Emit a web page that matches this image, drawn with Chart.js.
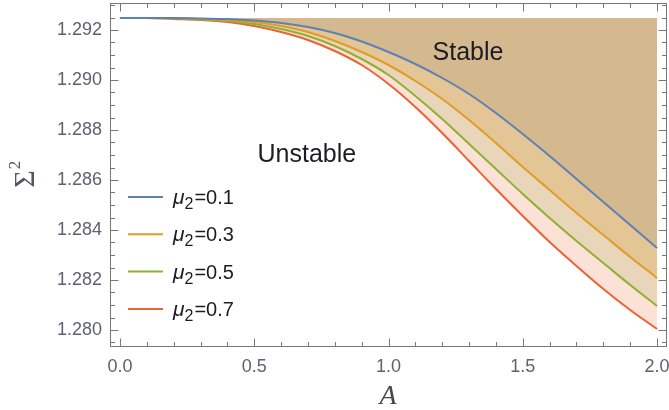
<!DOCTYPE html>
<html><head><meta charset="utf-8">
<script src="https://cdn.jsdelivr.net/npm/chart.js@4.4.1/dist/chart.umd.min.js"></script>
<style>html,body{margin:0;padding:0;background:#fff;}canvas{display:block;}</style>
</head><body>
<canvas id="c" width="669" height="410"></canvas>
<script>
// ---- data ----
const amplitudes = [0.0,0.1,0.2,0.3,0.4,0.5,0.6,0.7,0.8,0.9,1.0,1.1,1.2,1.3,1.4,1.5,1.6,1.7,1.8,1.9,2.0];
const sigmaMu01 = [1.29248,1.29248,1.29248,1.29246,1.29244,1.29238,1.29228,1.29212,1.29188,1.29154,1.29112,1.29064,1.29008,1.28944,1.28868,1.28784,1.28696,1.28604,1.28512,1.28420,1.28328];
const sigmaMu03 = [1.29248,1.29248,1.29248,1.29244,1.29240,1.29232,1.29216,1.29192,1.29156,1.29112,1.29060,1.28996,1.28924,1.28840,1.28748,1.28652,1.28560,1.28468,1.28380,1.28292,1.28208];
const sigmaMu05 = [1.29248,1.29248,1.29246,1.29242,1.29236,1.29224,1.29204,1.29176,1.29136,1.29084,1.29020,1.28936,1.28844,1.28744,1.28644,1.28544,1.28448,1.28356,1.28268,1.28180,1.28096];
const sigmaMu07 = [1.29248,1.29248,1.29244,1.29240,1.29232,1.29216,1.29192,1.29160,1.29116,1.29060,1.28984,1.28892,1.28788,1.28676,1.28564,1.28456,1.28352,1.28256,1.28164,1.28080,1.28004];
const muValues = ['0.1','0.3','0.5','0.7'];
const stableTop = 1.29248;
const xTickValues = [0.0,0.5,1.0,1.5,2.0];
const yTickValues = [1.280,1.282,1.284,1.286,1.288,1.290,1.292];
const regionLabels = ['Stable','Unstable'];

// ---- styles ----
const lineColors = ['#5E81B5','#E19C24','#8FB032','#EB6235'];
const fillColors = ['rgb(212,185,143)','rgb(227,197,150)','rgb(232,213,186)','rgb(252,225,215)'];
const series = [sigmaMu01, sigmaMu03, sigmaMu05, sigmaMu07];
const pts = arr => amplitudes.map((a,i)=>({x:a, y:arr[i]}));

const datasets = [{
  label:'top', data: amplitudes.map(a=>({x:a,y:stableTop})),
  borderWidth:0, pointRadius:0, fill:false, borderColor:'rgba(0,0,0,0)'
}];
series.forEach((s,i)=>{
  datasets.push({
    label:'μ2=' + muValues[i], data: pts(s),
    borderColor: lineColors[i], borderWidth: 2, pointRadius: 0,
    cubicInterpolationMode: 'monotone',
    fill: {target: i}, backgroundColor: fillColors[i]
  });
});

const tickFont = {family:'"Liberation Sans", Arial, sans-serif', size:18};
const tickColor = '#606070';

const overlay = {
  id:'overlay',
  afterDraw(chart){
    const ctx = chart.ctx, xs = chart.scales.x, ys = chart.scales.y, a = chart.chartArea;
    ctx.save();
    // frame
    ctx.strokeStyle = '#777'; ctx.lineWidth = 1;
    ctx.strokeRect(Math.round(a.left)+0.5, Math.round(a.top)+0.5, Math.round(a.right-a.left)-1, Math.round(a.bottom-a.top)-1);
    ctx.beginPath();
    const L = Math.round(a.left)+0.5, R = Math.round(a.right)-0.5, T = Math.round(a.top)+0.5, B = Math.round(a.bottom)-0.5;
    for (let i=0;i<=20;i++){
      const v = i/10, p = Math.round(xs.getPixelForValue(v))+0.5, len = (i%5===0)?8:4.5;
      ctx.moveTo(p,B); ctx.lineTo(p,B-len);
      ctx.moveTo(p,T); ctx.lineTo(p,T+len);
    }
    for (let k=2559;k<=2586;k++){
      const v = k*0.0005, p = Math.round(ys.getPixelForValue(v))+0.5, len = (k%4===0)?8:4.5;
      if (p < a.top || p > a.bottom) continue;
      ctx.moveTo(L,p); ctx.lineTo(L+len,p);
      ctx.moveTo(R,p); ctx.lineTo(R-len,p);
    }
    ctx.stroke();

    // region labels
    ctx.fillStyle = '#1c1c24';
    ctx.font = '25px "Liberation Sans", Arial, sans-serif';
    ctx.textAlign = 'center'; ctx.textBaseline = 'middle';
    ctx.fillText(regionLabels[0], xs.getPixelForValue(1.296), ys.getPixelForValue(1.29108));
    ctx.fillText(regionLabels[1], xs.getPixelForValue(0.696), ys.getPixelForValue(1.2870));

    // legend
    ctx.textAlign = 'left'; ctx.textBaseline = 'alphabetic';
    muValues.forEach((m,i)=>{
      const y = 197 + i*37.3;
      ctx.strokeStyle = lineColors[i]; ctx.lineWidth = 2;
      ctx.beginPath(); ctx.moveTo(128,y); ctx.lineTo(163,y); ctx.stroke();
      const b = y + 7;
      let x = 173;
      ctx.fillStyle = '#1c1c24';
      ctx.font = 'italic 21px "Liberation Sans", Arial, sans-serif';
      ctx.fillText('μ', x, b); x += ctx.measureText('μ').width;
      ctx.font = '16px "Liberation Sans", Arial, sans-serif';
      ctx.fillText('2', x, b+5); x += ctx.measureText('2').width + 1;
      ctx.font = '20px "Liberation Sans", Arial, sans-serif';
      ctx.fillText('=' + m, x, b);
    });

    // axis titles
    ctx.fillStyle = '#4a4a4a';
    ctx.font = 'italic 28px "Liberation Serif", "Times New Roman", serif';
    ctx.textAlign = 'center';
    ctx.fillText('A', 388, 404);

    ctx.translate(26, 175); ctx.rotate(-Math.PI/2);
    ctx.fillStyle = '#555566';
    ctx.font = '30px "Liberation Serif", "Times New Roman", serif';
    ctx.textAlign = 'left';
    const w = ctx.measureText('Σ').width;
    ctx.fillText('Σ', -w/2-4, 8);
    ctx.font = '17px "Liberation Serif", "Times New Roman", serif';
    ctx.fillText('2', w/2-3, -6);
    ctx.restore();
  }
};

new Chart(document.getElementById('c'), {
  type:'line',
  data:{datasets},
  options:{
    responsive:false, animation:false, devicePixelRatio:1,
    layout:{padding:{top:3,right:2,left:0,bottom:0}},
    plugins:{legend:{display:false}, tooltip:{enabled:false}, filler:{drawTime:'beforeDatasetsDraw'}},
    scales:{
      x:{type:'linear', min:-0.037, max:2.037,
        grid:{display:false, drawTicks:false}, border:{display:false},
        afterBuildTicks: s => { s.ticks = xTickValues.map(v=>({value:v})); },
        afterFit: s => { s.height = 63; s.paddingLeft = 0; s.paddingRight = 0; },
        ticks:{font:tickFont, color:tickColor, padding:9, maxRotation:0, autoSkip:false,
          callback: v => Number(v).toFixed(1)}
      },
      y:{type:'linear', min:1.27932, max:1.29308,
        grid:{display:false, drawTicks:false}, border:{display:false},
        afterBuildTicks: s => { s.ticks = yTickValues.map(v=>({value:v})); },
        afterFit: s => { s.width = 110; s.paddingTop = 0; s.paddingBottom = 0; },
        ticks:{font:tickFont, color:tickColor, padding:8, autoSkip:false,
          callback: v => Number(v).toFixed(3)}
      }
    }
  },
  plugins:[overlay]
});
</script>
</body></html>
